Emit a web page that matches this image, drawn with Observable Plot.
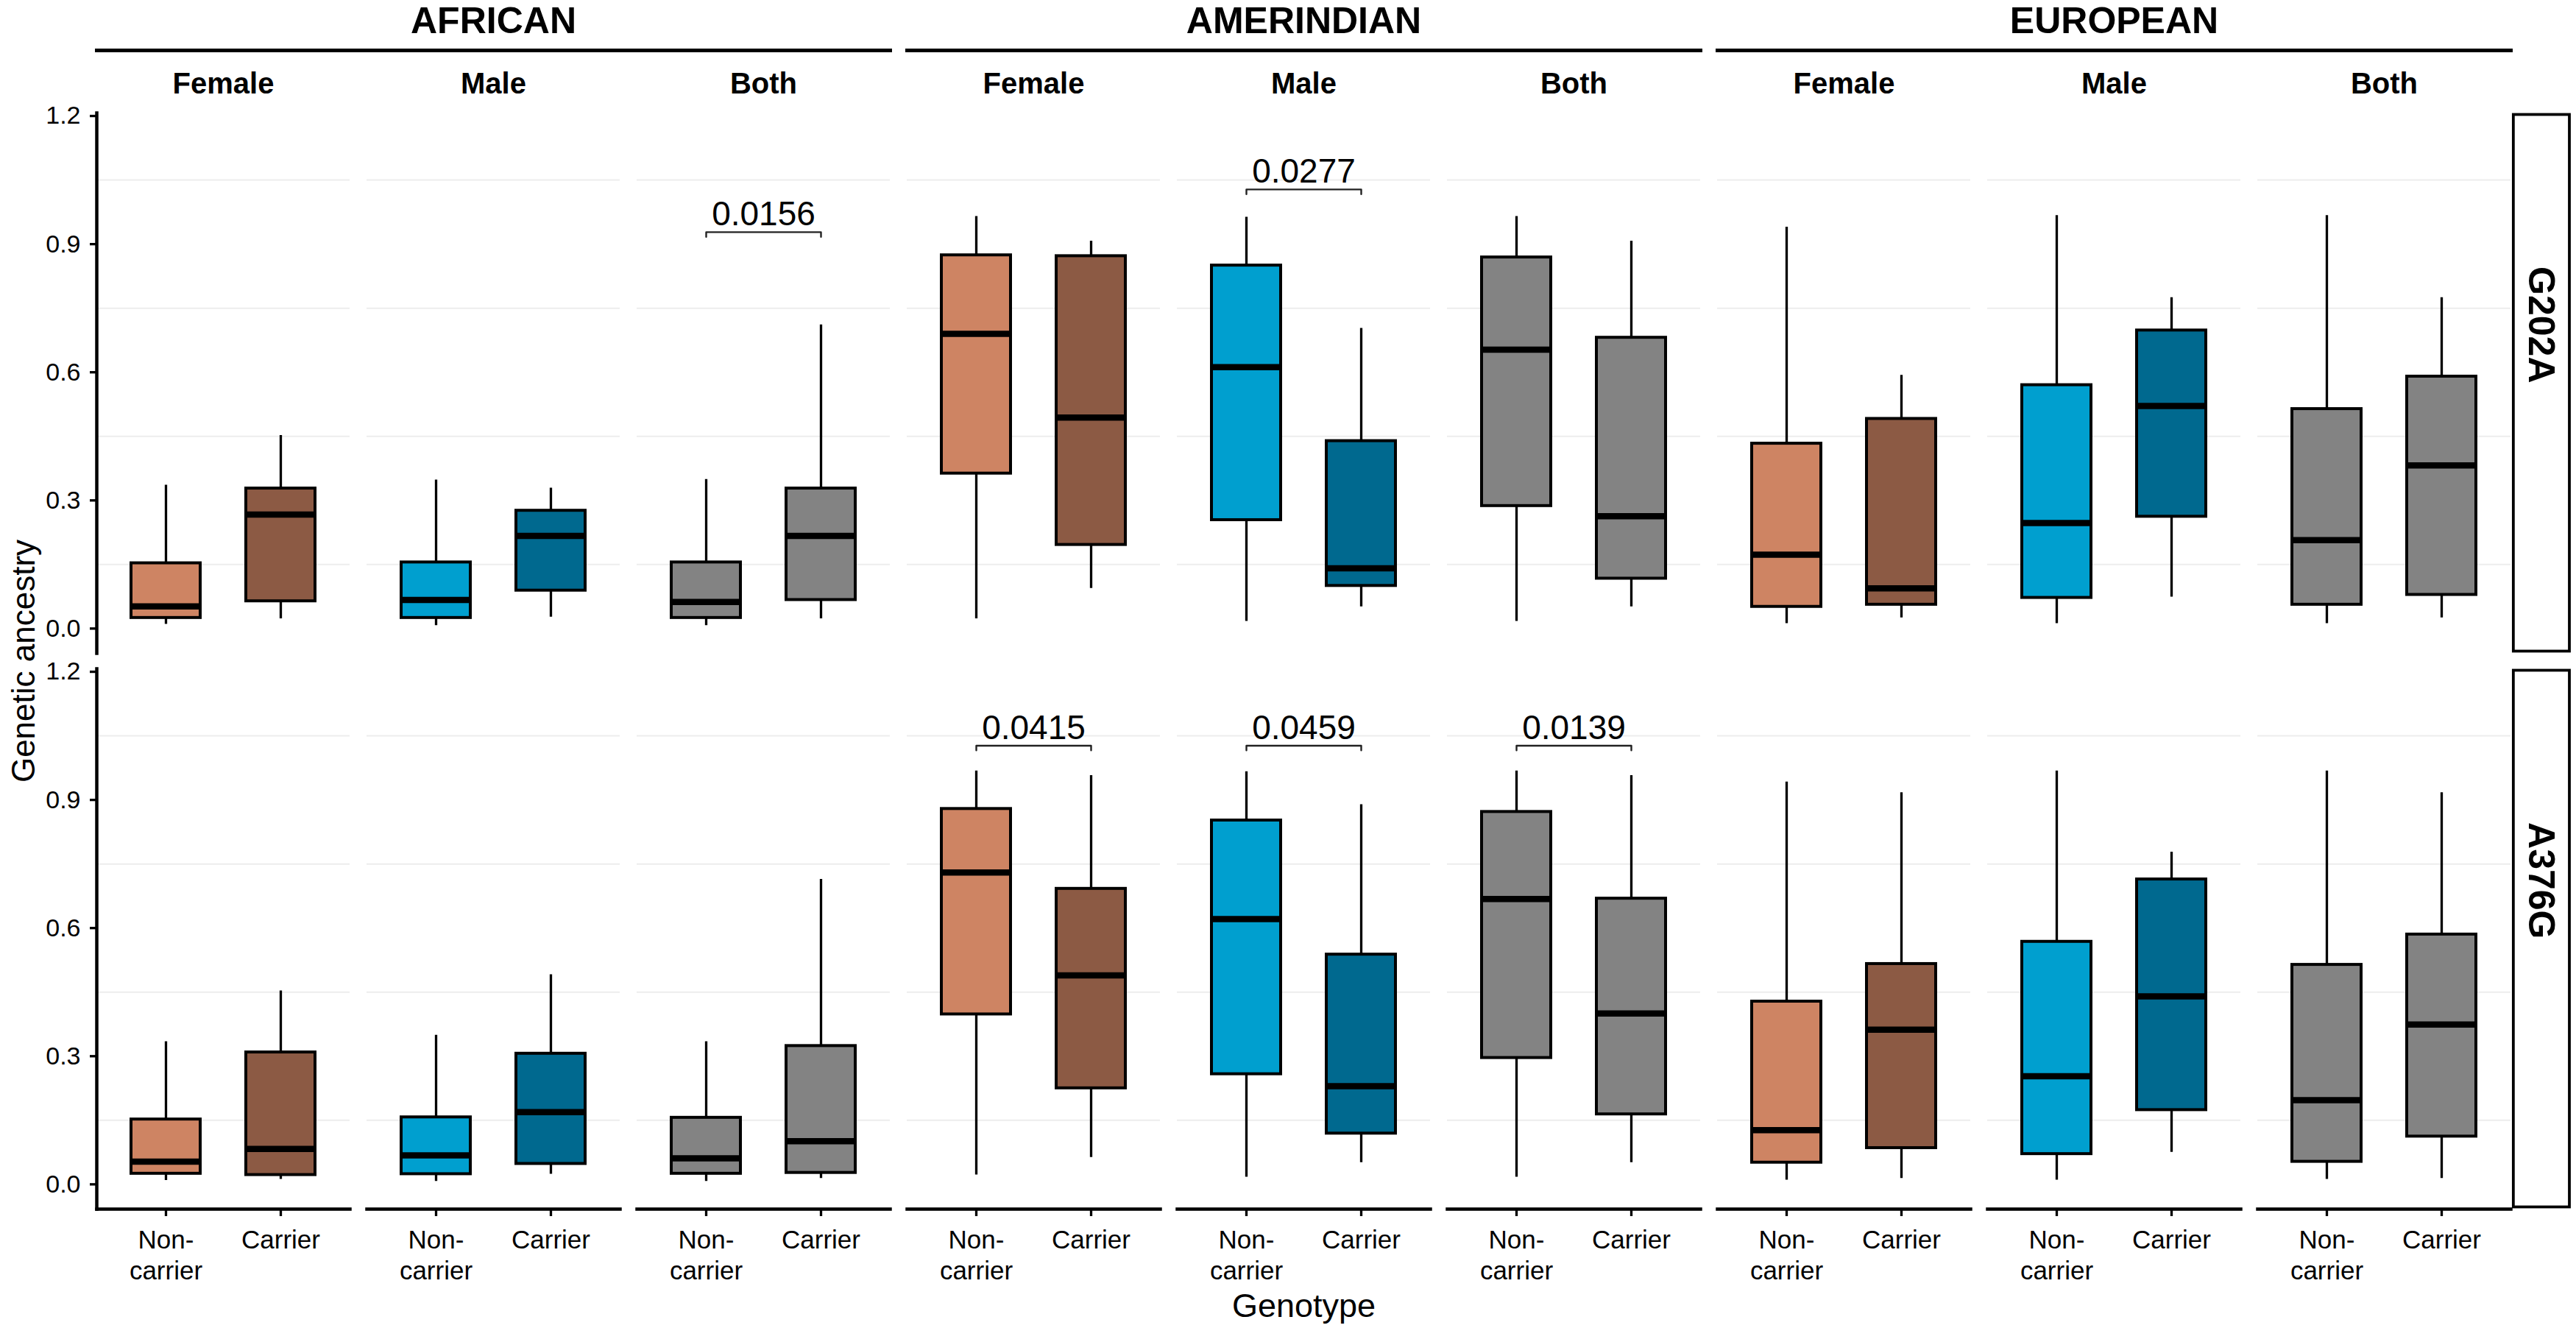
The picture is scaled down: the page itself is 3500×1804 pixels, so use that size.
<!DOCTYPE html>
<html>
<head>
<meta charset="utf-8">
<script src="https://cdn.jsdelivr.net/npm/d3@7"></script>
<script src="https://cdn.jsdelivr.net/npm/@observablehq/plot@0.6"></script>
<style>
  html, body { margin: 0; padding: 0; background: #ffffff; }
  #chart { position: relative; width: 3500px; height: 1804px; }
  #chart svg { position: absolute; left: 0; top: 0; }
</style>
</head>
<body>
<div id="chart"></div>
<script>
// ---- Categories ----
const ancestries = ["AFRICAN", "AMERINDIAN", "EUROPEAN"];
const sexes = ["Female", "Male", "Both"];
const variants = ["G202A", "A376G"];
const genotypes = ["Non-carrier", "Carrier"];
const yTicks = [0, 0.3, 0.6, 0.9, 1.2];
const gridValues = [0.15, 0.45, 0.75, 1.05];

// ---- Box colours, by sex then genotype ----
const colorKeys = ["Female|Non-carrier", "Female|Carrier", "Male|Non-carrier", "Male|Carrier", "Both|Non-carrier", "Both|Carrier"];
const fillColors = ["#CE8463", "#8C5A44", "#009FCF", "#00698F", "#838383", "#838383"];

// ---- Box statistics: order is ancestry > sex > genotype ----
//                  AFRICAN                                         AMERINDIAN                                      EUROPEAN
const g202aLow    = [0.010, 0.023, 0.007, 0.027, 0.007, 0.023,  0.023, 0.094, 0.017, 0.051, 0.017, 0.051,  0.012, 0.025, 0.012, 0.074, 0.012, 0.025];
const g202aQ1     = [0.025, 0.064, 0.025, 0.089, 0.025, 0.067,  0.363, 0.196, 0.254, 0.100, 0.287, 0.117,  0.051, 0.056, 0.072, 0.262, 0.056, 0.079];
const g202aMedian = [0.052, 0.267, 0.067, 0.217, 0.062, 0.217,  0.690, 0.494, 0.612, 0.141, 0.653, 0.263,  0.173, 0.094, 0.247, 0.521, 0.207, 0.382];
const g202aQ3     = [0.153, 0.328, 0.155, 0.276, 0.155, 0.328,  0.874, 0.872, 0.850, 0.439, 0.869, 0.681,  0.433, 0.491, 0.570, 0.698, 0.514, 0.590];
const g202aHigh   = [0.336, 0.452, 0.348, 0.329, 0.349, 0.711,  0.965, 0.907, 0.963, 0.703, 0.965, 0.907,  0.940, 0.593, 0.967, 0.775, 0.967, 0.775];

const a376gLow    = [0.009, 0.012, 0.007, 0.024, 0.007, 0.014,  0.022, 0.063, 0.017, 0.051, 0.017, 0.051,  0.010, 0.014, 0.010, 0.075, 0.012, 0.014];
const a376gQ1     = [0.025, 0.022, 0.024, 0.048, 0.025, 0.027,  0.398, 0.225, 0.258, 0.119, 0.296, 0.164,  0.051, 0.085, 0.071, 0.174, 0.053, 0.112];
const a376gMedian = [0.053, 0.083, 0.068, 0.169, 0.061, 0.101,  0.730, 0.489, 0.621, 0.230, 0.668, 0.400,  0.127, 0.362, 0.253, 0.440, 0.197, 0.374];
const a376gQ3     = [0.152, 0.309, 0.157, 0.306, 0.156, 0.324,  0.879, 0.692, 0.852, 0.538, 0.872, 0.669,  0.428, 0.516, 0.568, 0.714, 0.514, 0.585];
const a376gHigh   = [0.334, 0.453, 0.349, 0.491, 0.334, 0.714,  0.968, 0.957, 0.966, 0.889, 0.968, 0.957,  0.942, 0.917, 0.968, 0.778, 0.968, 0.917];

// ---- Pairwise comparisons (p-values and bracket heights) ----
const pValues   = [0.0156, 0.0277, 0.0415, 0.0459, 0.0139];
const pVariant  = ["G202A", "G202A", "A376G", "A376G", "A376G"];
const pAncestry = ["AFRICAN", "AMERINDIAN", "AMERINDIAN", "AMERINDIAN", "AMERINDIAN"];
const pSex      = ["Both", "Male", "Female", "Male", "Both"];
const pBracketY = [0.928, 1.028, 1.027, 1.027, 1.027];

// ---- Tables for the marks ----
const panelKey = (a, s) => `${a}|${s}`;
const panels = ancestries.flatMap(a => sexes.map(s => panelKey(a, s)));
const lastPanel = panels[panels.length - 1];

const statsByVariant = [
  [g202aLow, g202aQ1, g202aMedian, g202aQ3, g202aHigh],
  [a376gLow, a376gQ1, a376gMedian, a376gQ3, a376gHigh]
];

const boxes = [];
variants.forEach((variant, vi) => {
  const [low, q1, med, q3, high] = statsByVariant[vi];
  let i = 0;
  for (const a of ancestries) for (const s of sexes) for (const g of genotypes) {
    boxes.push({
      variant, panel: panelKey(a, s), genotype: g, colorKey: `${s}|${g}`,
      low: low[i], q1: q1[i], median: med[i], q3: q3[i], high: high[i]
    });
    i++;
  }
});

const comparisons = pValues.map((p, i) => ({
  p, label: String(p), variant: pVariant[i], panel: panelKey(pAncestry[i], pSex[i]), y: pBracketY[i]
}));
const bracketTip = 0.011;
const bracketPoints = comparisons.flatMap((d, i) => [
  {id: i, variant: d.variant, panel: d.panel, genotype: genotypes[0], y: d.y - bracketTip},
  {id: i, variant: d.variant, panel: d.panel, genotype: genotypes[0], y: d.y},
  {id: i, variant: d.variant, panel: d.panel, genotype: genotypes[1], y: d.y},
  {id: i, variant: d.variant, panel: d.panel, genotype: genotypes[1], y: d.y - bracketTip}
]);

// ---- Layout ----
const W = 3500, H = 1804;
const marginLeft = 130, marginRight = 88.6, marginTop = 153, marginBottom = 162;
const panelGap = 22.9;
const panelStep = (W - marginLeft - marginRight + panelGap) / panels.length;
const panelWidth = panelStep - panelGap;
const rowGap = 21;
const rowStep = (H - marginTop - marginBottom + rowGap) / variants.length;
const font = "'Liberation Sans', Arial, Helvetica, sans-serif";

const main = Plot.plot({
  width: W,
  height: H,
  marginLeft, marginRight, marginTop, marginBottom,
  style: {fontFamily: font, background: "#ffffff", color: "#000000"},
  facet: {marginTop: 0, marginRight: 0, marginBottom: 0, marginLeft: 0},
  fx: {domain: panels, paddingInner: panelGap / panelStep, paddingOuter: 0, axis: null},
  fy: {domain: variants, paddingInner: rowGap / rowStep, paddingOuter: 0, axis: null},
  x: {type: "band", domain: genotypes, paddingInner: 0.4, paddingOuter: 0.3, axis: null},
  y: {domain: [-0.058, 1.207], axis: null},
  color: {domain: colorKeys, range: fillColors},
  marks: [
    // faint minor grid
    Plot.ruleY(gridValues, {stroke: "#EDEDED", strokeWidth: 2}),
    // whiskers
    Plot.ruleX(boxes, {fx: "panel", fy: "variant", x: "genotype", y1: "low", y2: "high", stroke: "#000", strokeWidth: 3.3}),
    // boxes
    Plot.barY(boxes, {fx: "panel", fy: "variant", x: "genotype", y1: "q1", y2: "q3", fill: "colorKey", stroke: "#000", strokeWidth: 4}),
    // medians
    Plot.tickY(boxes, {fx: "panel", fy: "variant", x: "genotype", y: "median", stroke: "#000", strokeWidth: 8.5}),
    // comparison brackets and p-values
    Plot.line(bracketPoints, {fx: "panel", fy: "variant", x: "genotype", y: "y", z: "id", stroke: "#222", strokeWidth: 2.4}),
    Plot.text(comparisons, {fx: "panel", fy: "variant", y: "y", text: "label", dy: -9, lineAnchor: "bottom", fontSize: 46, fill: "#000"}),
    // axis lines
    Plot.frame({anchor: "left", facetAnchor: "left", stroke: "#000", strokeWidth: 4.5}),
    Plot.frame({anchor: "bottom", facetAnchor: "bottom", stroke: "#000", strokeWidth: 4.5}),
    // axes
    Plot.axisY({ticks: yTicks, tickFormat: d3.format(".1f"), tickSize: 9, tickPadding: 13, fontSize: 34, strokeWidth: 3.3, label: null, color: "#000"}),
    Plot.axisX({tickSize: 10, tickPadding: 14, fontSize: 35, lineHeight: 1.2, strokeWidth: 3.3, label: null, color: "#000",
      tickFormat: g => g === "Non-carrier" ? "Non-\ncarrier" : g}),
    Plot.axisFx({anchor: "top", tickSize: 0, tickPadding: 27, fontSize: 40, fontWeight: "bold", label: null, color: "#000",
      tickFormat: k => k.split("|")[1]}),
    Plot.axisFx({anchor: "bottom", tickSize: 0, tickFormat: () => "", label: "Genotype", labelAnchor: "center", labelOffset: 146, fontSize: 45, color: "#000"}),
    Plot.axisFy({anchor: "left", tickSize: 0, tickFormat: () => "", label: "Genetic ancestry", labelAnchor: "center", labelOffset: 116, fontSize: 44, color: "#000"}),
    // row strips on the right
    Plot.rect(variants, {fx: () => lastPanel, fy: d => d, insetLeft: panelWidth + 3.6, insetRight: -80, insetTop: 2.5, insetBottom: 2.5, fill: "#fff", stroke: "#000", strokeWidth: 3.8}),
    Plot.text(variants, {fx: () => lastPanel, fy: d => d, text: d => d, frameAnchor: "right", dx: 40, rotate: 90, lineAnchor: "middle", fontSize: 50, fontWeight: "bold", fill: "#000"})
  ]
});

// ---- Ancestry header spanning the three panels of each group ----
const groupGap = panelGap;
const groupStep = (W - marginLeft - marginRight + groupGap) / ancestries.length;
const header = Plot.plot({
  width: W,
  height: 100,
  marginLeft, marginRight, marginTop: 0, marginBottom: 32,
  style: {fontFamily: font, background: "transparent", color: "#000000"},
  facet: {marginTop: 0, marginRight: 0, marginBottom: 0, marginLeft: 0},
  fx: {domain: ancestries, paddingInner: groupGap / groupStep, paddingOuter: 0, axis: null},
  marks: [
    Plot.frame({anchor: "bottom", stroke: "#000", strokeWidth: 5}),
    Plot.text(ancestries, {fx: d => d, text: d => d, frameAnchor: "bottom", dy: -24, lineAnchor: "bottom", fontSize: 50, fontWeight: "bold", fill: "#000"})
  ]
});

const chart = document.getElementById("chart");
chart.appendChild(main);
chart.appendChild(header);
</script>
</body>
</html>
